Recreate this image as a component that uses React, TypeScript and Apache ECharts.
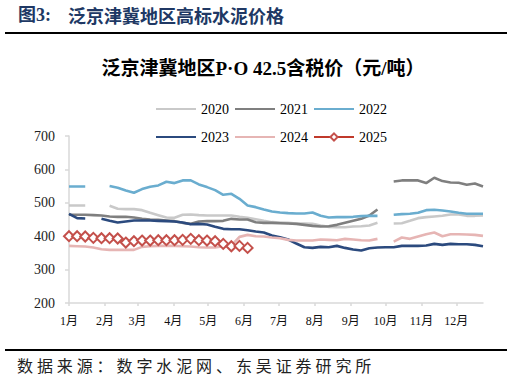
import React, { useEffect, useRef } from "react";
import * as echarts from "echarts";

const years = ["2020", "2021", "2022", "2023", "2024", "2025"];
const colors = ["#C9C9C9", "#7F7F7F", "#6AADCF", "#2B4A7E", "#E6B5B4", "#C0392B"];

const monthDays = [0, 31, 59, 90, 120, 151, 181, 212, 243, 273, 304, 334];
const monthLabels = ["1月", "2月", "3月", "4月", "5月", "6月", "7月", "8月", "9月", "10月", "11月", "12月"];
const yTicks = [200, 300, 400, 500, 600, 700];

const s2020 = [492, 492, 492, null, null, 491, 482, 481, 481, 478, 470, 463, 456, 455, 464, 465, 463, 462, 462, 462, 462, 458, 455, 451, 446, 442, 441, 440, 438, 438, 437, 432, 428, 427, 427, 429, 430, 432, 440, null, 438, 439, 446, 454, 457, 459, 461, 465, 465, 461, 461, 462];
const s2021 = [464, 464, 464, 463, 462, 459, 458, 458, 456, 452, 450, 449, 447, 445, 440, 437, 444, 445, 445, 446, 452, 450, 450, 442, 440, 440, 439, 438, 437, 434, 431, 429, 430, 434, 440, 446, 452, 462, 480, null, 564, 567, 567, 567, 559, 575, 565, 561, 560, 554, 558, 549];
const s2022 = [549, 549, 549, null, null, 550, 545, 537, 530, 541, 548, 552, 563, 559, 567, 567, 555, 547, 538, 524, 527, 512, 492, 487, 480, 474, 471, 469, 468, 468, 471, 461, 456, 457, 457, 458, 460, 461, 461, null, 464, 466, 467, 470, 478, 479, 477, 474, 470, 467, 467, 467];
const s2023 = [467, 454, 453, null, 452, 446, 441, 444, 447, 447, 447, 446, 445, 444, 441, 436, 437, 435, 428, 422, 421, 421, 418, 414, 411, 402, 397, 390, 378, 367, 365, 368, 367, 371, 365, 360, 357, 364, 366, 367, 367, 371, 371, 371, 372, 377, 374, 377, 376, 376, 374, 370];
const s2024 = [371, 370, 369, 366, 361, 359, 359, 359, 359, 368, 370, 371, 371, 371, 370, 369, 367, 366, 366, 370, 372, 398, 404, 400, 399, 396, 394, 389, 387, 387, 387, 390, 389, 388, 392, 390, 388, 387, 392, null, 384, 396, 392, 399, 406, 411, 400, 406, 406, 405, 404, 401];
const s2025 = [400, 400, 399, 395, 394, 394, 393, 381, 385, 387, 387, 388, 388, 388, 389, 392, 388, 387, 385, 377, 370, 371, 365];

const seriesValues = [s2020, s2021, s2022, s2023, s2024, s2025];

const serifFont = "'Liberation Serif', 'Times New Roman', 'Noto Sans CJK SC', serif";
const sourceText = "数据来源：数字水泥网、东吴证券研究所";

export default function App() {
  const ref = useRef<HTMLDivElement>(null);
  useEffect(() => {
    if (!ref.current) return;
    const chart = echarts.init(ref.current, undefined, { renderer: "svg" });
    const series = years.map((y, k) => {
      const isLast = k === years.length - 1;
      return {
        name: y,
        type: "line",
        data: seriesValues[k].map((v, i) => [i * 7, v == null ? "-" : v]),
        symbol: isLast ? "emptyDiamond" : "none",
        symbolSize: 10,
        showSymbol: isLast,
        connectNulls: false,
        color: colors[k],
        lineStyle: { width: 2.6, color: colors[k] },
        itemStyle: { color: isLast ? "#C4504B" : colors[k], borderWidth: 1.2 },
        z: 2 + k,
      };
    });
    const legendItem = (name: string) =>
      name === "2025" ? { name } : { name, itemStyle: { opacity: 0 } };
    const legendBase = {
      left: 150,
      itemWidth: 40,
      itemHeight: 9,
      itemGap: 5,
      textStyle: { fontFamily: serifFont, fontSize: 14, color: "#000" },
    };
    chart.setOption({
      animation: false,
      backgroundColor: "#fff",
      grid: { left: 69, right: 29, top: 136, bottom: 79 },
      legend: [
        { ...legendBase, top: 97, data: years.slice(0, 3).map(legendItem) },
        { ...legendBase, top: 125, data: years.slice(3).map(legendItem) },
      ],
      xAxis: {
        type: "value",
        min: 0,
        max: 357,
        splitLine: { show: false },
        axisLine: { show: true, lineStyle: { color: "#D9D9D9", width: 1.5 } },
        axisTick: { show: true, customValues: monthDays, length: 3, lineStyle: { color: "#D9D9D9", width: 1.5 } },
        axisLabel: {
          customValues: monthDays,
          formatter: (v: number) => monthLabels[monthDays.indexOf(v)] ?? "",
          fontFamily: serifFont,
          fontSize: 12,
          color: "#111",
          margin: 12,
        },
      },
      yAxis: {
        type: "value",
        min: yTicks[0],
        max: yTicks[yTicks.length - 1],
        interval: 100,
        splitLine: { show: false },
        axisLine: { show: true, lineStyle: { color: "#D9D9D9", width: 1.5 } },
        axisTick: { show: true, length: 4, lineStyle: { color: "#D9D9D9", width: 1.5 } },
        axisLabel: { fontFamily: serifFont, fontSize: 14, color: "#222", margin: 14 },
      },
      title: {
        text: "泛京津冀地区P·O 42.5含税价（元/吨）",
        left: 258,
        textAlign: "center",
        top: 54,
        textStyle: { fontFamily: serifFont, fontSize: 19, fontWeight: "bold", color: "#000" },
      },
      graphic: [
        {
          type: "text",
          x: 18,
          y: 15,
          style: { text: "图3:", font: "bold 18px 'Liberation Serif', 'Noto Sans CJK SC'", fill: "#203864", verticalAlign: "middle" },
        },
        {
          type: "text",
          x: 68,
          y: 15,
          style: { text: "泛京津冀地区高标水泥价格", font: "bold 18px 'Noto Sans CJK SC'", fill: "#203864", verticalAlign: "middle" },
        },
        { type: "line", shape: { x1: 5, y1: 33, x2: 507, y2: 33 }, style: { stroke: "#000", lineWidth: 2 } },
        { type: "line", shape: { x1: 5, y1: 350, x2: 507, y2: 350 }, style: { stroke: "#000", lineWidth: 2 } },
        {
          type: "group",
          children: Array.from(sourceText).map((ch, i) => ({
            type: "text",
            x: 17 + i * 19.9,
            y: 365,
            style: { text: ch, font: "16px 'Noto Sans CJK SC'", fill: "#222", verticalAlign: "middle" },
          })),
        },
      ],
      series,
    });
    return () => chart.dispose();
  }, []);
  return (
    <div
      ref={ref}
      style={{ position: "fixed", left: 0, top: 0, width: 512, height: 382, background: "#fff" }}
    />
  );
}
